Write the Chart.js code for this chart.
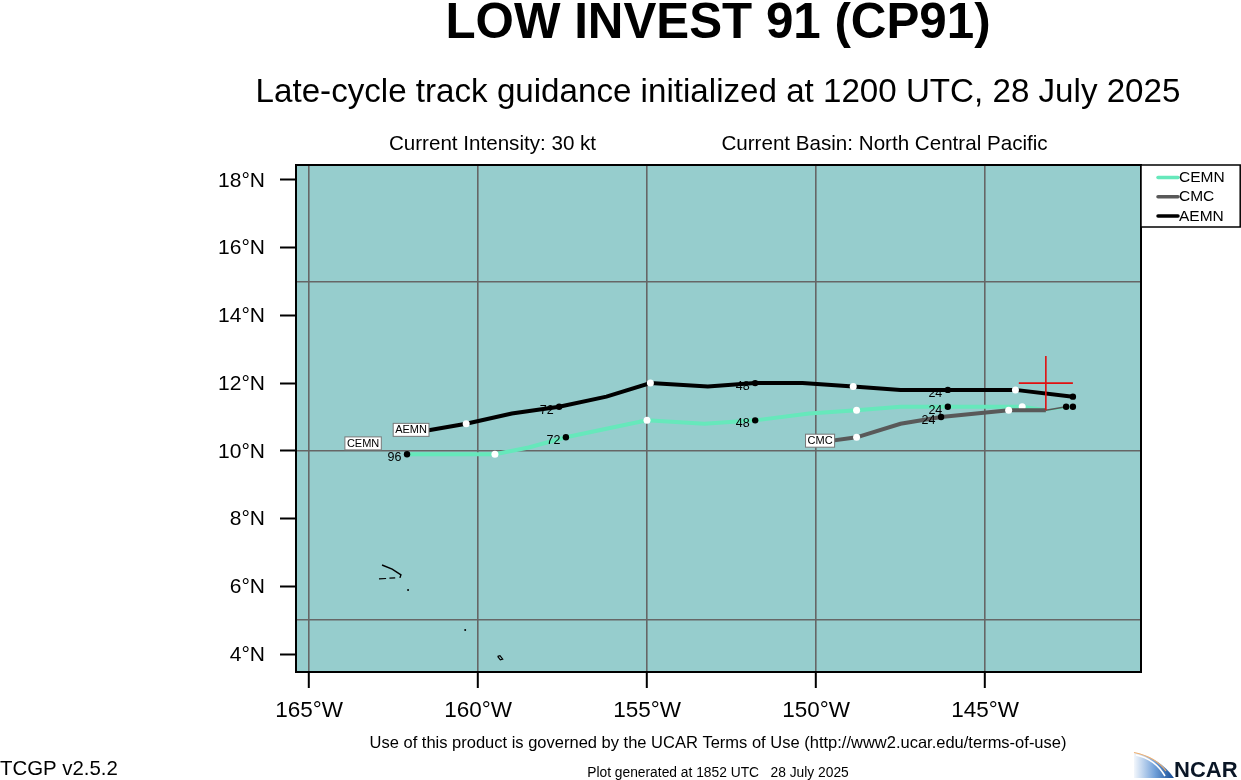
<!DOCTYPE html>
<html><head><meta charset="utf-8">
<style>html,body{margin:0;padding:0;background:#fff;overflow:hidden}#c{position:absolute;left:0;top:0;display:block}</style>
<script src="https://cdn.jsdelivr.net/npm/chart.js@4/dist/chart.umd.min.js"></script>
</head><body><canvas id="c" width="1241" height="780"></canvas>
<script>
const latTicks=[4,6,8,10,12,14,16,18];
const lonTicks=[-165,-160,-155,-150,-145];
const latGrid=[5,10,15];
const cemnLon=[-142.4,-143.2,-143.9,-145.2,-146.1,-147.5,-148.8,-150.2,-151.8,-153.3,-155.0,-156.2,-157.4,-158.5,-159.5,-160.8,-162.1];
const cemnLat=[11.3,11.2,11.3,11.3,11.3,11.3,11.2,11.1,10.9,10.8,10.9,10.65,10.4,10.1,9.9,9.9,9.9];
const cemnKind=[2,0,1,0,2,0,1,0,2,0,1,0,2,0,1,0,2];
const cemnTau=["","","","","24","","","","48","","","","72","","","","96"];
const cmcLon=[-142.6,-143.2,-144.3,-146.3,-147.5,-148.8,-149.9];
const cmcLat=[11.3,11.2,11.2,11.0,10.8,10.4,10.25];
const cmcKind=[2,0,1,2,0,1,0];
const cmcTau=["","","","24","","",""];
const aemnLon=[-142.4,-144.1,-146.1,-147.5,-148.9,-150.4,-151.8,-153.2,-154.9,-156.2,-157.6,-159.0,-160.35,-161.8];
const aemnLat=[11.6,11.8,11.8,11.8,11.9,12.0,12.0,11.9,12.0,11.6,11.3,11.1,10.8,10.55];
const aemnKind=[2,1,2,0,1,0,2,0,1,0,2,0,1,0];
const aemnTau=["","","24","","","","48","","","","72","","",""];
const coast1Lon=[-162.84,-162.54,-162.28,-162.31];
const coast1Lat=[6.63,6.51,6.34,6.25];
const coast2Lon=[-162.45,-162.62];
const coast2Lat=[6.25,6.24];
const coast3Lon=[-162.72,-162.93];
const coast3Lat=[6.23,6.22];
const coast4Lon=[-159.42,-159.35,-159.27,-159.34,-159.42];
const coast4Lat=[3.93,3.95,3.85,3.83,3.93];
const isletLon=[-162.07,-160.38];
const isletLat=[5.89,4.71];
const crossHLon=[-144,-142.4];
const crossHLat=[12,12];
const crossVLon=[-143.2,-143.2];
const crossVLat=[12.8,11.2];
const legendNames=["CEMN","CMC","AEMN"];
const seriesColors=["#66e8bb","#595959","#000000"];
const endLabels=[{t:"CEMN",lon:-163.40,lat:10.22},{t:"CMC",lon:-149.88,lat:10.3},{t:"AEMN",lon:-161.98,lat:10.62}];
const tauLabels=[[cemnLon,cemnLat,cemnTau],[cmcLon,cmcLat,cmcTau],[aemnLon,aemnLat,aemnTau]];

const pts=(a,b)=>a.map((v,i)=>({x:v,y:b[i]}));
const F='"Liberation Sans",Arial,sans-serif';
const kindFill=k=>k.map(v=>v===1?'#fff':'#000');
const kindR=k=>k.map(v=>v===0?0:(v===1?3.5:3.2));
const track=(name,lon,lat,kind,col,w,ord)=>({label:name,order:ord,data:pts(lon,lat),showLine:true,borderColor:col,backgroundColor:col,borderWidth:w,tension:0,
  segment:{borderWidth:c=>c.p0DataIndex===0&&name!=="AEMN"?1.6:undefined},
  pointRadius:kindR(kind),pointBackgroundColor:kindFill(kind),pointBorderWidth:0,pointHoverRadius:kindR(kind)});
const thin=(name,lon,lat,col,w,ord)=>({label:name,order:ord,data:pts(lon,lat),showLine:true,borderColor:col,borderWidth:w,pointRadius:0,tension:0});

const texts=[
 ["LOW INVEST 91 (CP91)",718,24,"bold 49.3px "+F,"center"],
 ["Late-cycle track guidance initialized at 1200 UTC, 28 July 2025",718,93,"33.15px "+F,"center"],
 ["Current Intensity: 30 kt",492.5,144,"20.6px "+F,"center"],
 ["Current Basin: North Central Pacific",884.5,144,"20.6px "+F,"center"],
 ["Use of this product is governed by the UCAR Terms of Use (http://www2.ucar.edu/terms-of-use)",718,743,"16.5px "+F,"center"],
 ["TCGP v2.5.2",0,769,"20.4px "+F,"left"],
 ["Plot generated at 1852 UTC   28 July 2025",718,773,"13.8px "+F,"center"]
];

const overlay={id:'overlay',
 beforeDraw(c){const g=c.ctx,a=c.chartArea;g.save();g.fillStyle='#96cdcd';g.fillRect(a.left,a.top,a.width,a.height);g.restore();},
 afterDraw(c){
  const g=c.ctx,a=c.chartArea,X=c.scales.x,Y=c.scales.y;
  g.save();
  g.strokeStyle='#000';g.lineWidth=2;g.strokeRect(a.left,a.top,a.width,a.height);
  g.textBaseline='middle';g.fillStyle='#000';
  texts.forEach(t=>{g.font=t[3];g.textAlign=t[4];g.fillText(t[0],t[1],t[2]);});
  g.font='12.5px '+F;g.textAlign='center';
  tauLabels.forEach(s=>s[2].forEach((t,i)=>{if(t)g.fillText(t,X.getPixelForValue(s[0][i])-12.5,Y.getPixelForValue(s[1][i])+3.5);}));
  endLabels.forEach(l=>{
    const x=X.getPixelForValue(l.lon),y=Y.getPixelForValue(l.lat);
    g.font='11px '+F;const w=g.measureText(l.t).width+4;
    g.fillStyle='#fff';g.strokeStyle='#777';g.lineWidth=1;
    g.fillRect(x-w/2,y-6.5,w,13);g.strokeRect(x-w/2,y-6.5,w,13);
    g.fillStyle='#000';g.textAlign='center';g.fillText(l.t,x,y+.5);
  });
  g.fillStyle='#fff';g.fillRect(1141,165,99,62);
  g.strokeStyle='#000';g.lineWidth=1.5;g.strokeRect(1141,165,99.2,62);
  g.font='15.5px '+F;g.textAlign='left';
  legendNames.forEach((n,i)=>{
    const y=177.5+19.2*i;
    g.strokeStyle=seriesColors[i];g.lineWidth=3.5;g.lineCap='round';
    g.beginPath();g.moveTo(1158,y);g.lineTo(1178,y);g.stroke();
    g.fillStyle='#000';g.fillText(n,1179,y+.5);
  });
  g.lineCap='butt';
  const lg=g.createLinearGradient(1132,760,1174,760);
  lg.addColorStop(0,'rgba(120,165,220,0)');lg.addColorStop(.55,'#6f9fd8');lg.addColorStop(1,'#134a94');
  g.fillStyle=lg;g.beginPath();g.moveTo(1134,752);g.quadraticCurveTo(1160,758,1174,778);g.lineTo(1134,778);g.closePath();g.fill();
  g.strokeStyle='#f0b070';g.lineWidth=1.2;g.beginPath();g.moveTo(1134,752.5);g.quadraticCurveTo(1156,757,1166,771);g.stroke();
  g.strokeStyle='#fff';g.lineWidth=1.6;g.beginPath();g.moveTo(1136,755);g.quadraticCurveTo(1155,759,1165,776);g.stroke();
  g.fillStyle='#0a1626';g.font='bold 22px '+F;g.textAlign='left';g.fillText("NCAR",1174,770.5);
  g.restore();
 }};

new Chart(document.getElementById('c'),{type:'scatter',
 data:{datasets:[
  track("CEMN",cemnLon,cemnLat,cemnKind,seriesColors[0],4,5),
  track("CMC",cmcLon,cmcLat,cmcKind,seriesColors[1],4,4),
  track("AEMN",aemnLon,aemnLat,aemnKind,seriesColors[2],4,3),
  thin("Best-track H",crossHLon,crossHLat,"#e01010",1.6,1),
  thin("Best-track V",crossVLon,crossVLat,"#e01010",1.6,1),
  thin("coast1",coast1Lon,coast1Lat,"#000",1.4,6),
  thin("coast2",coast2Lon,coast2Lat,"#000",1.2,6),
  thin("coast3",coast3Lon,coast3Lat,"#000",1.2,6),
  thin("coast4",coast4Lon,coast4Lat,"#000",1.2,6),
  {label:"islets",order:6,data:pts(isletLon,isletLat),pointRadius:1,backgroundColor:"#000",borderWidth:0}
 ]},
 options:{responsive:false,animation:false,events:[],
  layout:{autoPadding:false,padding:{left:0,right:100,top:165,bottom:0}},
  plugins:{legend:{display:false},tooltip:{enabled:false},title:{display:false}},
  scales:{
   x:{type:'linear',min:-165.385,max:-140.385,position:'bottom',
      afterFit(s){s.height=108;},
      afterBuildTicks(s){s.ticks=lonTicks.map(v=>({value:v}));},
      border:{display:false},
      grid:{color:'#666',lineWidth:1.6,tickColor:'#000',tickWidth:2,tickLength:16},
      ticks:{color:'#000',font:{family:F,size:22.5},padding:9,maxRotation:0,autoSkip:false,callback:v=>Math.abs(v)+'°W'}},
   y:{type:'linear',min:3.47,max:18.44,position:'left',
      afterFit(s){s.width=296;},
      afterBuildTicks(s){s.ticks=latTicks.map(v=>({value:v}));},
      border:{display:false},
      grid:{drawOnChartArea:false,tickColor:'#000',tickWidth:2,tickLength:16},
      ticks:{color:'#000',font:{family:F,size:21},padding:15,labelOffset:1,autoSkip:false,callback:v=>v+'°N'}},
   yGrid:{type:'linear',min:3.47,max:18.44,position:'left',
      afterFit(s){s.width=0;},
      afterBuildTicks(s){s.ticks=latGrid.map(v=>({value:v}));},
      border:{display:false},
      grid:{color:'#666',lineWidth:1.6,drawTicks:false},
      ticks:{display:false}}
  }},
 plugins:[overlay]});
</script>
</body></html>
